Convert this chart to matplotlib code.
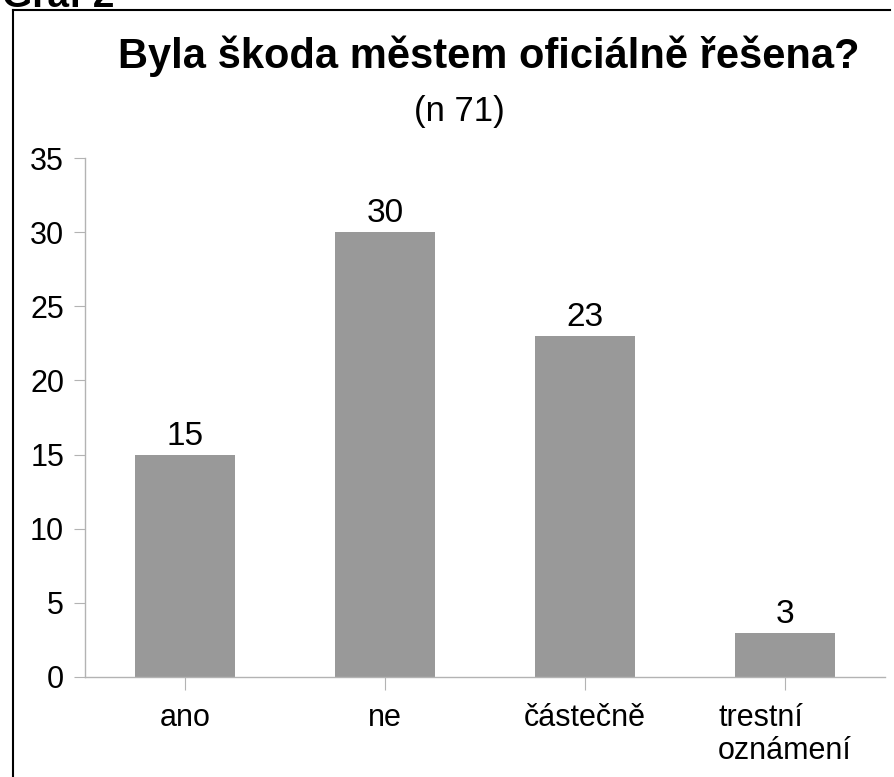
import matplotlib.pyplot as plt
from matplotlib.lines import Line2D

kategorie = ["ano", "ne", "částečně", "trestní\noznámení"]
pocty = [15, 30, 23, 3]
y_ticks = [0, 5, 10, 15, 20, 25, 30, 35]

plt.rcParams['font.family'] = ['Liberation Sans', 'DejaVu Sans']

W, H = 895, 777
fig = plt.figure(figsize=(W / 100, H / 100), dpi=100)
ax = fig.add_axes([85 / W, 1 - 677 / H, 800 / W, (677 - 158) / H])

x = list(range(len(kategorie)))
ax.bar(x, pocty, width=0.5, color='#999999', zorder=2)
for xi, v in zip(x, pocty):
    ax.annotate(str(v), (xi, v), xytext=(0, 7), textcoords='offset points',
                ha='center', va='baseline', fontsize=24)

ax.set_xlim(-0.5, 3.5)
ax.set_ylim(0, 35)
ax.set_yticks(y_ticks)
ax.set_xticks(x)
ax.set_xticklabels(kategorie, fontsize=22, multialignment='left', linespacing=1.1)
ax.tick_params(axis='y', labelsize=22, length=8, color='#b3b3b3', pad=7)
ax.tick_params(axis='x', length=9, color='#b3b3b3', pad=10)
for s in ['top', 'right']:
    ax.spines[s].set_visible(False)
for s in ['left', 'bottom']:
    ax.spines[s].set_color('#b3b3b3')
    ax.spines[s].set_linewidth(1)

fig.text(489 / W, 1 - 68 / H, "Byla škoda městem oficiálně řešena?",
         ha='center', va='baseline', fontsize=30, fontweight='bold')
fig.text(459 / W, 1 - 111 / H, "(n 71)", ha='center', va='center', fontsize=25)
fig.text(2 / W, 1 - 7 / H, "Graf 2", ha='left', va='baseline',
         fontsize=28, fontweight='bold')

# ramecek okolo grafu
fig.add_artist(Line2D([13 / W, 13 / W], [0, 1 - 10 / H], transform=fig.transFigure,
                      color='black', linewidth=1.5))
fig.add_artist(Line2D([13 / W, 890 / W], [1 - 10 / H, 1 - 10 / H], transform=fig.transFigure,
                      color='black', linewidth=1.5))

fig.savefig('out.png', dpi=100)
